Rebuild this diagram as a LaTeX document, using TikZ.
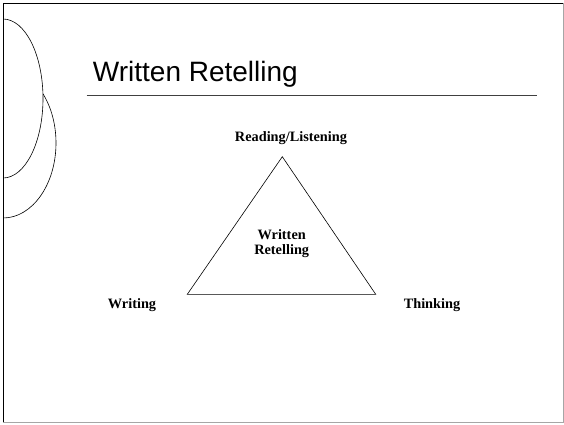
\documentclass[tikz,border=0pt]{standalone}
\usepackage{fontspec}
\setmainfont{Liberation Serif}
\newfontfamily\titlefont{Liberation Sans}
\usetikzlibrary{positioning}
\tikzset{slidetitle/.style={inner sep=0pt,anchor=base west,font=\titlefont\fontsize{28}{32}\selectfont}}
\tikzset{corner/.style={inner sep=0pt,font=\bfseries\fontsize{14.3}{15}\selectfont}}
\tikzset{centre/.style={inner sep=0pt,align=center,font=\bfseries\fontsize{14.3}{15}\selectfont}}
\tikzset{thinline/.style={draw=black,line width=0.6pt}}

\begin{document}
\begin{tikzpicture}[x=1pt,y=-1pt]
\useasboundingbox (0,0) rectangle (564,424);
% decoration on the left
\begin{scope}
	\clip (3,0) rectangle (120,424);
	\draw[thinline,fill=white] (3,143) ellipse [x radius=53,y radius=75];
	\draw[thinline,fill=white] (3,98.5) ellipse [x radius=40,y radius=79.5];
\end{scope}
% slide frame
\draw[gray!70,line width=1pt] (3,3) rectangle (563,422);
\draw[black,line width=1pt] (3,422) -- (3,3) -- (563,3);
% title
\node (title) [slidetitle] at (92.7,81.7) {Written Retelling};
\coordinate (ruleL) at (86.7,95);
\coordinate (ruleR) at (537.3,95);
\draw[black!75,line width=1pt] (ruleL) -- (ruleR);
% triangle
\coordinate (apex) at (282.3,156.7);
\coordinate (left) at (187.3,294.3);
\coordinate (right) at (375.7,294.3);
\draw[thinline] (apex) -- (left) -- (right) -- cycle;
\node (read) [corner] at (291,138) {Reading/Listening};
\node (write) [corner] at (132,305) {Writing};
\node (think) [corner] at (432,305) {Thinking};
\node (mid) [centre] at (281.7,244) {Written\\Retelling};
\end{tikzpicture}
\end{document}
